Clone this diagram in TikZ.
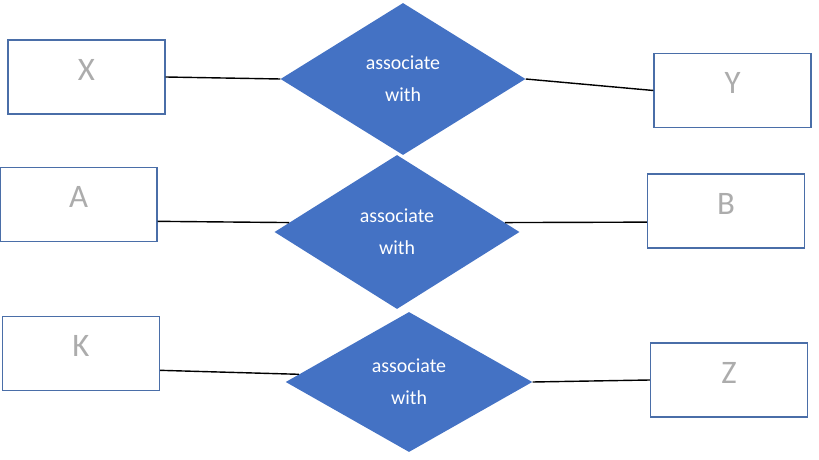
\documentclass[tikz,border=0pt]{standalone}
\usepackage{fontspec}
\setmainfont{Carlito}
\usepackage{xcolor}
\usepackage{tikz}
\usetikzlibrary{shapes.geometric}

\definecolor{relblue}{HTML}{4472C4}
\definecolor{boxedge}{HTML}{4A6EA8}

\begin{document}
\begin{tikzpicture}[
    x=0.03cm, y=-0.03cm,
    entity/.style={rectangle, draw=boxedge, line width=1.2pt, minimum width=4.71cm, minimum height=2.22cm, inner sep=0pt, text depth=0.45cm, text=gray!65, font=\fontsize{28}{30}\selectfont},
    relation/.style={diamond, fill=relblue, inner sep=0pt, minimum width=7.35cm, align=center, text=white, font=\fontsize{17}{27}\selectfont},
    link/.style={line width=1.2pt, black}
]
    \useasboundingbox (0,0) rectangle (819,460);

    % Entities
    \node[entity] (x) at (86.5,77) {X};
    \node[entity] (y) at (732.5,90.5) {Y};
    \node[entity] (a) at (78.5,204.5) {A};
    \node[entity] (b) at (726,211) {B};
    \node[entity] (k) at (81,353.5) {K};
    \node[entity] (z) at (729,380) {Z};

    % Relations
    \node[relation, minimum height=4.56cm] (r1) at (403,79) {associate\\with};
    \node[relation, minimum height=4.62cm] (r2) at (397,232) {associate\\with};
    \node[relation, minimum height=4.2cm, minimum width=7.4cm] (r3) at (409,382) {associate\\with};

    % Links
    \draw[link] (x.east) -- (r1.west);
    \draw[link] (r1.east) -- (y.west);
    \draw[link] (a.-12) -- (r2.175);
    \draw[link] (r2.5) -- (b.188);
    \draw[link] (k.-12) -- (r3.176);
    \draw[link] (r3.east) -- (z.west);
\end{tikzpicture}
\end{document}
